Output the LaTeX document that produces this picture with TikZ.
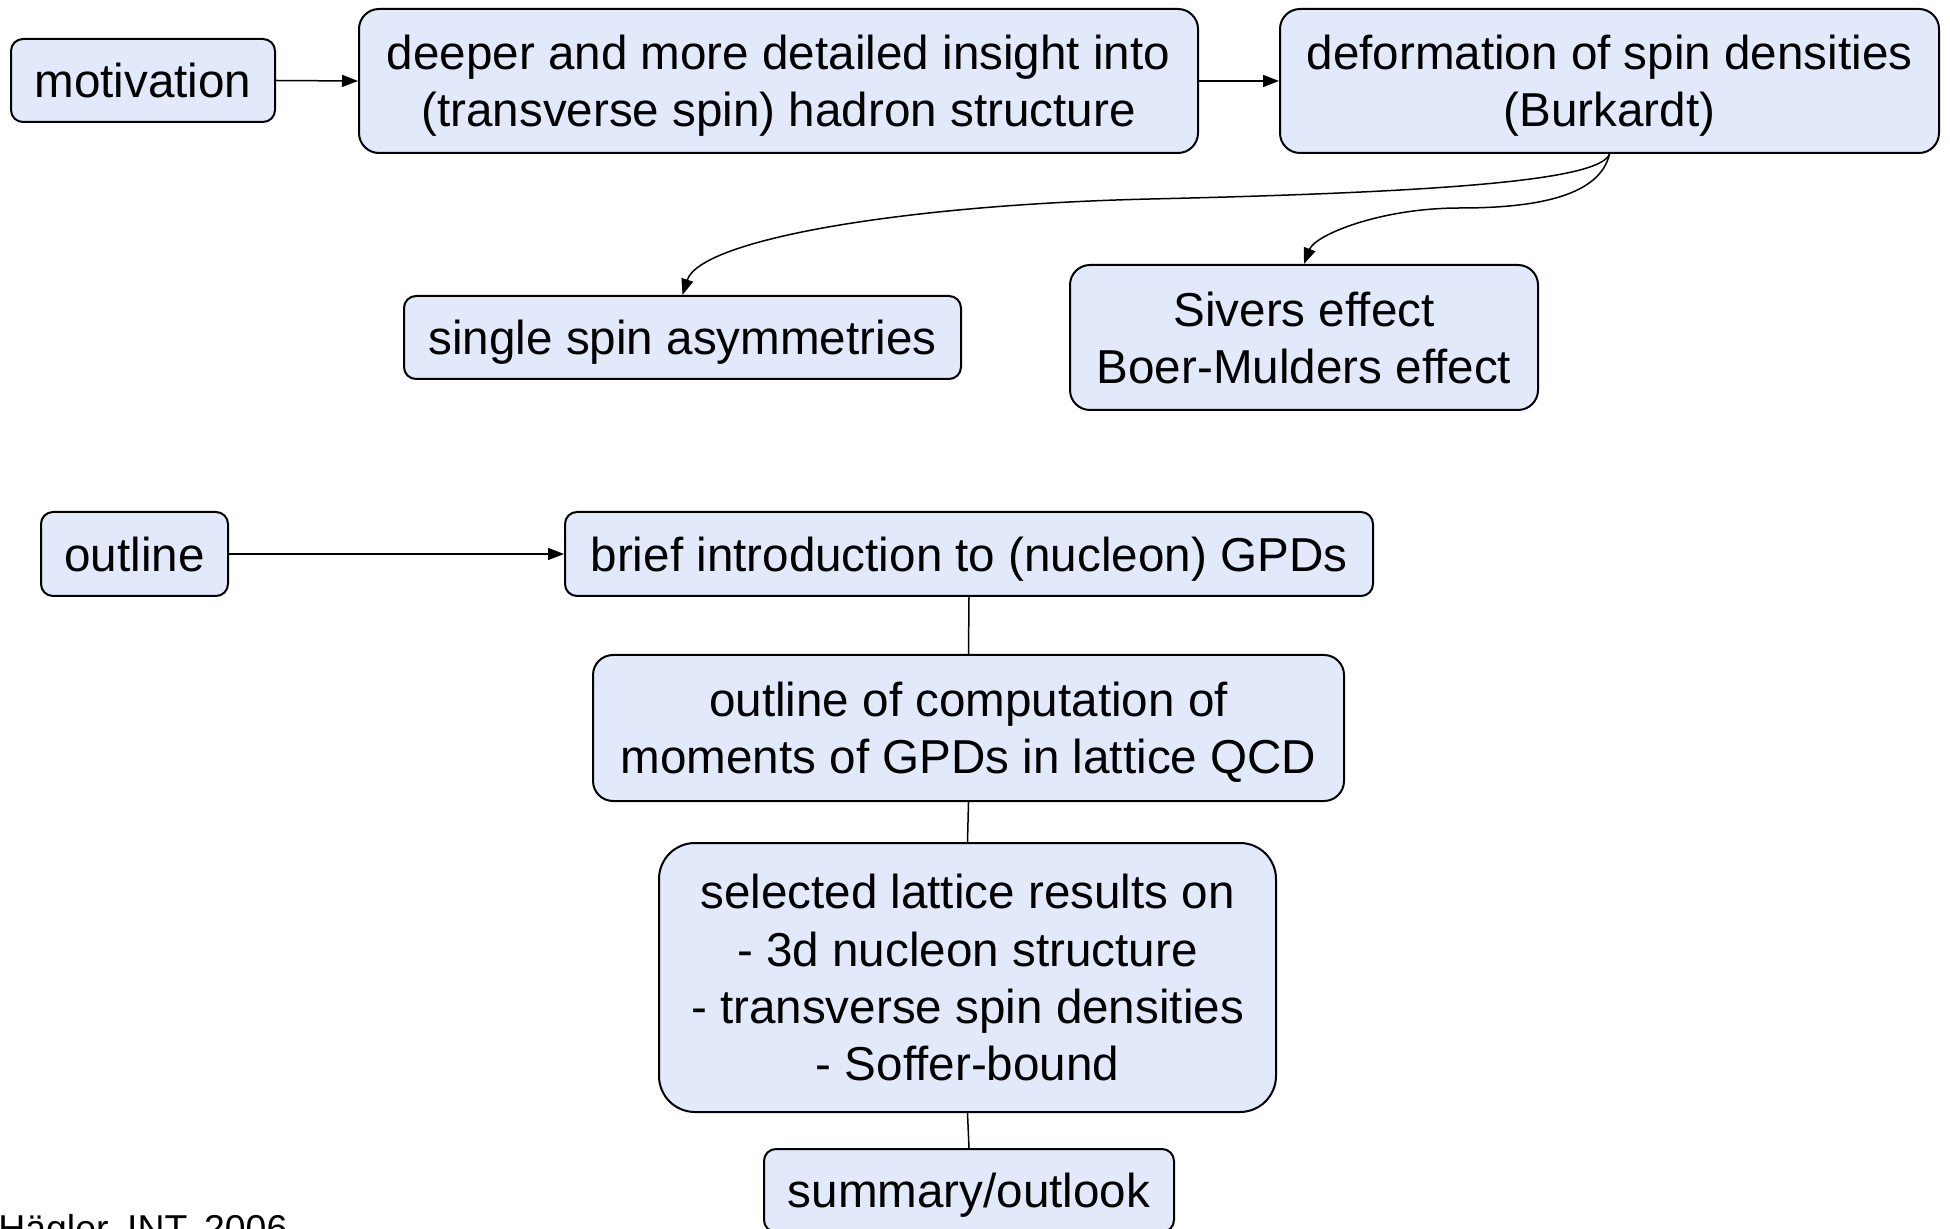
\documentclass[tikz,border=0pt]{standalone}
\usepackage{fontspec}
\setmainfont{Liberation Sans}
\usetikzlibrary{arrows.meta}
\definecolor{boxblue}{RGB}{225,233,251}

\begin{document}
\begin{tikzpicture}[x=0.5pt,y=-0.5pt,
  box/.style={draw,fill=boxblue,line width=1pt,rounded corners=6pt,align=center,
    inner sep=0pt,text depth=0pt,font=\fontsize{23.8pt}{28.6pt}\selectfont},
  link/.style={line width=0.75pt},
  arr/.style={link,-{Triangle[length=8pt,width=6pt]}}]
\useasboundingbox (0,0) rectangle (1950,1229);

\node[box,minimum width=132pt,minimum height=41.5pt] (motiv) at (143,80.5) {motivation};
\node[box,rounded corners=10pt,minimum width=419.5pt,minimum height=72pt] (deeper) at (778.5,81)
  {deeper and more detailed insight into\\(transverse spin) hadron structure};
\node[box,rounded corners=10pt,minimum width=329.5pt,minimum height=72pt] (deform) at (1609.5,81)
  {deformation of spin densities\\(Burkardt)};
\node[box,minimum width=278.5pt,minimum height=41.5pt] (single) at (682.5,337.5) {single spin asymmetries};
\node[box,rounded corners=10pt,minimum width=234pt,minimum height=72.5pt] (sivers) at (1304,337.5)
  {Sivers effect\\Boer-Mulders effect};

\node[box,minimum width=93.5pt,minimum height=42pt] (outl) at (134.5,554) {outline};
\node[box,minimum width=404pt,minimum height=42pt] (brief) at (969,554) {brief introduction to (nucleon) GPDs};
\node[box,rounded corners=10pt,minimum width=375.5pt,minimum height=73pt] (comp) at (968.5,728)
  {outline of computation of\\moments of GPDs in lattice QCD};
\node[box,rounded corners=18pt,minimum width=308.5pt,minimum height=134.5pt] (select) at (967.5,977.5)
  {selected lattice results on\\- 3d nucleon structure\\- transverse spin densities\\- Soffer-bound};
\node[box,minimum width=205pt,minimum height=41.5pt] (summ) at (969,1190.5) {summary/outlook};

\draw[arr] (motiv.east) -- (deeper.west);
\draw[arr] (deeper.east) -- (deform.west);
\draw[arr] (deform.south) .. controls (1600,180) and (1450,192) .. (1150,199)
  .. controls (900,205) and (700,240) .. (single.north);
\draw[arr] (deform.south) .. controls (1600,195) and (1540,208) .. (1460,208)
  .. controls (1380,208) and (1315,235) .. (sivers.north);

\draw[arr] (outl.east) -- (brief.west);
\draw[link] (brief.south) -- (comp.north);
\draw[link] (comp.south) -- (select.north);
\draw[link] (select.south) -- (summ.north);

\node[anchor=base west,inner sep=0pt,font=\fontsize{18.7pt}{22pt}\selectfont] (credit) at (-2,1241)
  {Hägler, INT, 2006};
\end{tikzpicture}
\end{document}
